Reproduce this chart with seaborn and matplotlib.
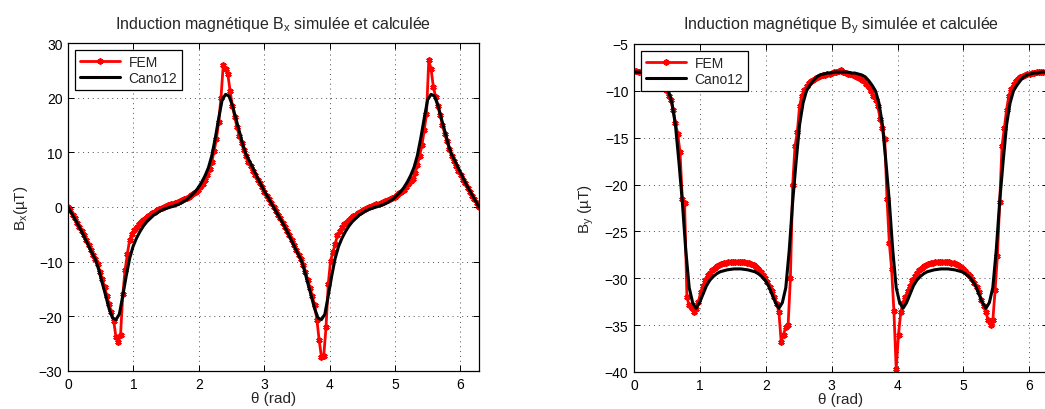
import numpy as np
import matplotlib
matplotlib.use("Agg")
import matplotlib.pyplot as plt
import seaborn as sns

# sample angles in degrees (FEM every 2 deg, analytic model every 3 deg)
theta_fem_deg = np.arange(0, 361, 2)
theta_cano_deg = np.arange(0, 361, 3)

# Bx, FEM simulation (uT)
bx_fem = [
    0.0, -0.6, -1.4, -2.1, -2.9, -3.6, -4.4, -5.2, -6.1, -6.9,
    -7.8, -8.7, -9.5, -10.5, -11.8, -13.2, -14.6, -16.2, -17.8, -19.2,
    -20.8, -23.8, -24.7, -23.5, -16.0, -11.5, -8.6, -6.0, -5.0, -4.2,
    -3.7, -3.1, -2.7, -2.3, -2.0, -1.7, -1.4, -1.1, -0.9, -0.6,
    -0.4, -0.2, 0.0, 0.2, 0.3, 0.5, 0.6, 0.8, 0.9, 1.1,
    1.3, 1.5, 1.7, 1.9, 2.2, 2.5, 2.8, 3.2, 3.6, 4.2,
    4.9, 5.8, 6.9, 8.3, 10.2, 12.5, 15.5, 20.0, 26.0, 25.2,
    24.3, 21.2, 18.5, 16.5, 14.6, 13.0, 11.7, 10.4, 9.3, 8.3,
    7.5, 6.6, 5.8, 5.0, 4.3, 3.6, 2.8, 2.1, 1.4, 0.7,
    0.0,
    -0.7, -1.4, -2.1, -2.9, -3.6, -4.4, -5.2, -6.0, -6.9, -7.8,
    -8.7, -9.5, -10.6, -11.9, -13.3, -14.8, -16.3, -18.0, -20.6, -24.4,
    -27.4, -27.3, -22.0, -14.0, -9.8, -8.3, -6.8, -5.2, -4.3, -3.7,
    -3.2, -2.8, -2.4, -2.0, -1.7, -1.4, -1.1, -0.9, -0.6, -0.4,
    -0.2, 0.0, 0.2, 0.3, 0.5, 0.6, 0.8, 0.9, 1.1, 1.3,
    1.5, 1.7, 1.9, 2.2, 2.5, 2.8, 3.2, 3.6, 4.2, 4.8,
    5.2, 6.2, 7.6, 9.4, 11.3, 14.0, 17.0, 26.8, 25.3, 22.0,
    20.2, 18.5, 16.8, 15.0, 13.4, 12.0, 10.6, 9.4, 8.4, 7.5,
    6.6, 5.8, 5.0, 4.3, 3.5, 2.8, 2.1, 1.4, 0.7, 0.0,
]

# Bx, Cano12 model (uT)
bx_cano = [
    0.0, -1.1, -2.2, -3.3, -4.5, -5.8, -7.1, -8.4, -9.6, -11.5,
    -13.9, -16.2, -18.6, -20.3, -20.6, -19.6, -16.2, -12.6, -9.4, -7.2,
    -5.7, -4.5, -3.5, -2.7, -2.1, -1.5, -1.1, -0.7, -0.4, -0.2,
    0.0, 0.2, 0.4, 0.7, 1.1, 1.5, 2.1, 2.7, 3.5, 4.5,
    5.7, 7.2, 9.4, 12.6, 16.2, 19.6, 20.6, 20.3, 18.6, 16.2,
    13.9, 11.5, 9.6, 8.4, 7.1, 5.8, 4.5, 3.3, 2.2, 1.1,
    0.0, -1.1, -2.2, -3.3, -4.5, -5.8, -7.1, -8.4, -9.6, -11.5,
    -13.9, -16.2, -18.6, -20.3, -20.6, -19.6, -16.2, -12.6, -9.4, -7.2,
    -5.7, -4.5, -3.5, -2.7, -2.1, -1.5, -1.1, -0.7, -0.4, -0.2,
    0.0, 0.2, 0.4, 0.7, 1.1, 1.5, 2.1, 2.7, 3.5, 4.5,
    5.7, 7.2, 9.4, 12.6, 16.2, 19.6, 20.6, 20.3, 18.6, 16.2,
    13.9, 11.5, 9.6, 8.4, 7.1, 5.8, 4.5, 3.3, 2.2, 1.1,
    0.0,
]

# By, FEM simulation (uT)
by_fem = [
    -7.9, -7.9, -8.0, -8.0, -8.0, -8.0, -8.1, -8.1, -8.2, -8.3,
    -8.4, -8.6, -8.9, -9.3, -9.9, -10.5, -11.0, -12.0, -13.4, -14.6,
    -16.5, -21.5, -22.0, -32.0, -32.9, -33.2, -33.6, -33.3, -32.5, -31.5,
    -30.8, -30.2, -29.7, -29.4, -29.1, -28.9, -28.7, -28.6, -28.5, -28.4,
    -28.35, -28.3, -28.3, -28.3, -28.3, -28.3, -28.3, -28.3, -28.3, -28.35,
    -28.4, -28.5, -28.6, -28.8, -29.0, -29.3, -29.6, -30.0, -30.4, -30.9,
    -31.4, -32.0, -32.7, -33.6, -36.8, -36.0, -35.2, -35.0, -30.0, -20.0,
    -15.9, -14.4, -11.6, -10.5, -9.9, -9.5, -9.2, -9.0, -8.8, -8.6,
    -8.5, -8.4, -8.3, -8.3, -8.2, -8.2, -8.1, -8.0, -8.0, -7.9,
    -7.8,
    -8.0, -8.1, -8.2, -8.2, -8.3, -8.4, -8.5, -8.6, -8.8, -9.0,
    -9.3, -9.6, -10.0, -10.5, -11.0, -11.6, -13.0, -14.0, -15.1, -21.5,
    -26.2, -29.0, -33.5, -39.7, -36.0, -33.6, -32.6, -32.0, -31.4, -30.8,
    -30.2, -29.8, -29.4, -29.1, -28.9, -28.7, -28.6, -28.5, -28.4, -28.35,
    -28.3, -28.3, -28.3, -28.3, -28.3, -28.3, -28.3, -28.35, -28.4, -28.5,
    -28.6, -28.8, -29.0, -29.2, -29.5, -29.8, -30.1, -30.5, -30.9, -31.5,
    -32.3, -33.0, -33.6, -34.5, -35.0, -34.5, -31.3, -27.6, -21.9, -15.9,
    -14.0, -12.0, -10.5, -9.8, -9.3, -9.0, -8.7, -8.5, -8.4, -8.3,
    -8.2, -8.2, -8.1, -8.1, -8.0, -8.0, -8.0, -8.0, -8.0, -8.0,
]

# By, Cano12 model (uT)
by_cano = [
    -8.0, -8.0, -8.0, -8.1, -8.1, -8.2, -8.3, -8.5, -8.9, -9.4,
    -10.0, -11.3, -13.6, -17.5, -21.8, -27.0, -31.0, -32.6, -33.2, -32.6,
    -31.7, -30.8, -30.2, -29.8, -29.5, -29.3, -29.2, -29.1, -29.05, -29.0,
    -29.0, -29.0, -29.05, -29.1, -29.2, -29.3, -29.5, -29.8, -30.2, -30.8,
    -31.7, -32.6, -33.2, -32.6, -31.0, -27.0, -21.8, -17.5, -13.6, -11.3,
    -10.0, -9.4, -8.9, -8.5, -8.3, -8.2, -8.1, -8.1, -8.0, -8.0,
    -8.0, -8.0, -8.0, -8.1, -8.1, -8.2, -8.3, -8.5, -8.9, -9.4,
    -10.0, -11.3, -13.6, -17.5, -21.8, -27.0, -31.0, -32.6, -33.2, -32.6,
    -31.7, -30.8, -30.2, -29.8, -29.5, -29.3, -29.2, -29.1, -29.05, -29.0,
    -29.0, -29.0, -29.05, -29.1, -29.2, -29.3, -29.5, -29.8, -30.2, -30.8,
    -31.7, -32.6, -33.2, -32.6, -31.0, -27.0, -21.8, -17.5, -13.6, -11.3,
    -10.0, -9.4, -8.9, -8.5, -8.3, -8.2, -8.1, -8.1, -8.0, -8.0,
    -8.0,
]

theta_fem = np.deg2rad(theta_fem_deg)
theta_cano = np.deg2rad(theta_cano_deg)

sns.set_style("ticks")
plt.rcParams["font.family"] = ["Liberation Sans", "DejaVu Sans"]
plt.rcParams["mathtext.fontset"] = "custom"
plt.rcParams["mathtext.rm"] = "Liberation Sans"
plt.rcParams["axes.unicode_minus"] = True


def draw_panel(ax, fem, cano, title, ylabel, ylim, yticks):
    sns.lineplot(x=theta_fem, y=fem, ax=ax, color="red", lw=2,
                 marker=(6, 2, 0), markersize=4.5, markeredgewidth=1.3,
                 markeredgecolor="red", label="FEM")
    sns.lineplot(x=theta_cano, y=cano, ax=ax, color="black", lw=2.2,
                 label="Cano12")
    ax.set_xlim(0, 2 * np.pi)
    ax.set_ylim(*ylim)
    ax.set_xticks(range(0, 7))
    ax.set_yticks(yticks)
    ax.grid(True, ls=(0, (1, 4)), lw=0.7, color="0.3")
    for s in ax.spines.values():
        s.set_visible(True)
        s.set_color("black")
        s.set_linewidth(0.9)
    ax.tick_params(direction="in", top=True, right=True, length=4,
                   width=0.7, labelsize=10, pad=4, colors="black")
    ax.set_title(title, fontsize=11.5, pad=11)
    ax.set_xlabel("θ (rad)", fontsize=11, labelpad=0)
    ax.set_ylabel(ylabel, fontsize=11, labelpad=6)
    leg = ax.legend(loc="upper left", fontsize=10, frameon=True,
                    fancybox=False, edgecolor="black", framealpha=1,
                    handlelength=2.9, handletextpad=0.6, borderpad=0.35,
                    borderaxespad=0.5, labelspacing=0.15)
    leg.get_frame().set_linewidth(0.9)


fig = plt.figure(figsize=(10.45, 4.10), dpi=100)
ax1 = fig.add_axes([68 / 1045, 38 / 410, 411 / 1045, 328 / 410])
ax2 = fig.add_axes([634 / 1045, 37 / 410, 414 / 1045, 328 / 410])

draw_panel(ax1, bx_fem, bx_cano,
           r"Induction magnétique B$_\mathregular{x}$ simulée et calculée",
           r"B$_\mathregular{x}$(µT)", (-30, 30), range(-30, 31, 10))
draw_panel(ax2, by_fem, by_cano,
           r"Induction magnétique B$_\mathregular{y}$ simulée et calculée",
           r"B$_\mathregular{y}$ (µT)", (-40, -5), range(-40, -4, 5))

fig.savefig("out.png", dpi=100)
